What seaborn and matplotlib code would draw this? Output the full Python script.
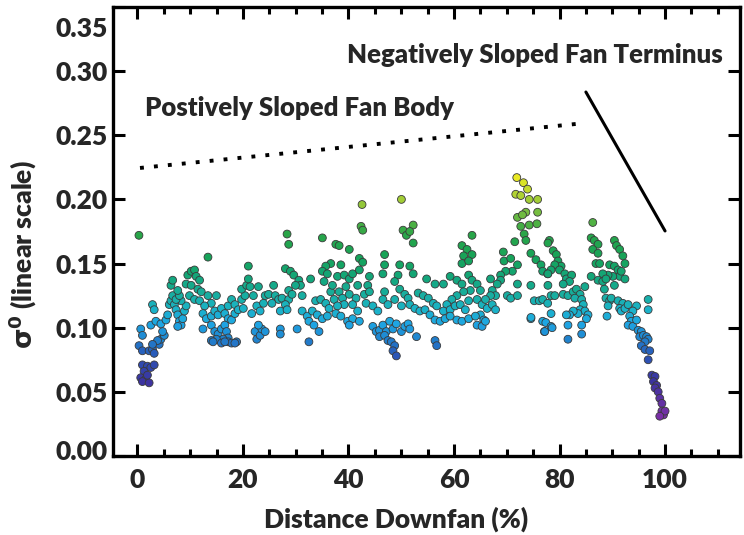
import numpy as np
import pandas as pd
import seaborn as sns
import matplotlib
matplotlib.use("Agg")
import matplotlib.pyplot as plt
from matplotlib.colors import LinearSegmentedColormap
from matplotlib.ticker import MultipleLocator
from matplotlib.transforms import ScaledTranslation

# ---- backscatter samples along the fan, grouped by stretch of the profile ----
# upper fan, 0-25 % downfan
apex_x = [0.96, 1.91, 1.27, 2.55, 3.19, 0.64, 1.59, 0.96, 2.23, 1.91,
          0.64, 0.96, 0.32, 0.96, 2.23, 2.87, 3.19, 4.14, 4.46, 5.10, 4.78, 3.82, 2.87,
          0.30,
          2.87, 3.19, 2.55, 3.51, 4.46, 5.42, 5.74, 6.05, 6.37, 6.69, 7.01, 7.33, 7.65,
          7.97, 8.29, 7.65, 8.60, 8.92, 9.24, 8.29, 7.33, 7.97, 6.37, 6.69, 7.65, 9.24,
          9.56, 10.20, 10.83, 11.15, 11.79, 10.20, 11.47, 12.11, 9.88, 10.83, 11.79,
          13.38, 13.38, 14.98, 14.02, 12.75, 12.43, 13.07, 14.02, 14.66, 15.30, 15.93,
          16.57, 17.21, 17.85, 18.48, 17.21, 17.85, 18.48, 19.12, 20.08, 19.76, 20.40,
          19.76, 20.71, 21.35, 21.03, 21.03, 21.99, 22.94, 22.63, 21.67, 23.26, 23.90,
          24.22,
          12.43, 14.02, 14.66, 15.30, 15.93, 16.57, 16.89, 17.21, 16.25, 14.98, 14.02,
          14.34, 15.93, 17.21, 17.85, 18.80, 18.48, 16.57, 22.31, 22.63, 23.26, 23.58,
          24.22, 22.94]
apex_y = [0.071, 0.070, 0.066, 0.069, 0.071, 0.061, 0.060, 0.058, 0.057, 0.063,
          0.099, 0.094, 0.086, 0.082, 0.082, 0.083, 0.080, 0.087, 0.091, 0.094, 0.097, 0.090, 0.087,
          0.172,
          0.118, 0.114, 0.102, 0.105, 0.103, 0.106, 0.110, 0.118, 0.121, 0.125, 0.118, 0.114, 0.110,
          0.105, 0.102, 0.101, 0.107, 0.113, 0.117, 0.121, 0.122, 0.125, 0.133, 0.137, 0.129, 0.134,
          0.141, 0.144, 0.145, 0.140, 0.137, 0.133, 0.130, 0.128, 0.125, 0.122, 0.121,
          0.155, 0.125, 0.125, 0.119, 0.117, 0.111, 0.107, 0.109, 0.113, 0.110, 0.115,
          0.111, 0.117, 0.122, 0.118, 0.107, 0.106, 0.111, 0.114, 0.115, 0.122, 0.125,
          0.130, 0.133, 0.132, 0.148, 0.138, 0.125, 0.132, 0.117, 0.111, 0.113, 0.119,
          0.125,
          0.099, 0.102, 0.097, 0.095, 0.099, 0.102, 0.097, 0.092, 0.091, 0.091, 0.090,
          0.089, 0.088, 0.089, 0.088, 0.089, 0.088, 0.089, 0.097, 0.091, 0.094, 0.099,
          0.097, 0.102]

# mid fan, 25-52 % downfan
mid_x = [42.58, 50.04, 42.39, 42.71, 28.37, 28.68, 35.06, 37.61, 38.24, 40.16,
         42.07, 42.71, 46.85, 50.35, 50.99, 49.72, 46.85, 36.65, 35.70, 35.06,
         36.01, 38.56, 28.05, 29.00, 29.64, 30.60, 30.91, 31.23, 29.96, 28.68,
         32.83, 35.38, 37.93, 39.20, 40.16, 40.79, 42.07, 43.98, 43.66, 41.75,
         39.52, 36.65, 36.97, 38.24, 46.53, 46.85, 49.40, 48.76, 49.72,
         24.86, 25.82, 26.13, 26.77, 25.50, 27.41, 28.68, 29.32, 28.05, 27.09,
         28.37, 33.78, 34.74, 35.70, 37.29, 38.88, 40.16, 41.43, 43.02, 43.98,
         43.34, 44.62, 45.57, 41.75, 40.79, 39.20, 37.93, 36.33, 46.53, 47.49,
         48.76, 50.04, 50.67, 51.31,
         31.23, 32.19, 33.15, 34.10, 35.06, 32.51, 33.46, 34.42, 36.01, 37.61,
         38.56, 39.84, 40.79, 40.16, 42.07, 30.28, 27.09, 27.09, 44.62, 45.26,
         45.89, 46.53, 47.17, 47.81, 48.44, 49.08, 50.04, 50.67, 51.31, 45.89,
         46.85, 47.49, 48.12, 48.76, 48.44, 49.08, 32.51]
mid_y = [0.196, 0.200, 0.179, 0.176, 0.173, 0.165, 0.170, 0.165, 0.164, 0.161,
         0.154, 0.151, 0.157, 0.176, 0.172, 0.149, 0.149, 0.150, 0.148, 0.144,
         0.142, 0.149, 0.146, 0.144, 0.141, 0.137, 0.133, 0.125, 0.133, 0.129,
         0.138, 0.136, 0.140, 0.141, 0.138, 0.142, 0.145, 0.140, 0.133, 0.133,
         0.132, 0.128, 0.133, 0.128, 0.142, 0.128, 0.141, 0.136, 0.130,
         0.126, 0.133, 0.125, 0.122, 0.119, 0.123, 0.122, 0.126, 0.118, 0.113,
         0.114, 0.121, 0.122, 0.119, 0.122, 0.123, 0.126, 0.123, 0.126, 0.128,
         0.119, 0.117, 0.113, 0.113, 0.118, 0.118, 0.117, 0.115, 0.122, 0.118,
         0.122, 0.117, 0.126, 0.123,
         0.113, 0.109, 0.113, 0.110, 0.107, 0.105, 0.102, 0.097, 0.109, 0.111,
         0.109, 0.105, 0.107, 0.102, 0.105, 0.099, 0.099, 0.095, 0.101, 0.097,
         0.098, 0.102, 0.097, 0.105, 0.099, 0.103, 0.097, 0.101, 0.103, 0.093,
         0.094, 0.090, 0.089, 0.086, 0.082, 0.078, 0.089]

# lower fan, 52-78 % downfan
low_x = [71.90, 73.17, 73.94, 71.71, 72.66, 74.26, 75.85, 73.62, 75.85, 72.03,
         72.98, 72.66, 74.26, 75.72, 73.30, 73.62, 71.52, 78.08, 63.42, 61.51,
         62.47, 63.42, 61.83, 61.51, 62.78, 69.35, 69.48, 70.75, 72.03, 71.07,
         69.79, 68.84, 68.84, 74.57, 75.53, 76.49, 76.81, 77.76, 52.27, 51.63,
         52.27, 51.63, 52.27,
         54.82, 56.41, 58.00, 53.22, 54.18, 55.14, 56.09, 56.73, 59.28, 60.55,
         61.51, 62.78, 63.42, 64.38, 65.01, 63.10, 61.83, 60.55, 59.60, 58.64,
         58.00, 59.28, 60.23, 61.19, 62.15, 62.78, 64.38, 65.33, 66.29, 67.25,
         67.88, 66.93, 68.20, 67.25, 67.88, 66.93, 65.97, 65.01, 65.65, 70.11,
         70.75, 72.03, 72.03, 74.57, 75.21, 76.17, 76.81, 77.76, 78.40, 51.63,
         52.59, 53.54, 54.50, 55.45, 56.41, 57.37, 58.32, 59.28, 60.55, 61.51,
         62.78, 64.06, 64.38, 65.33, 65.97,
         74.57, 76.81, 77.13, 52.90, 51.63, 56.41, 56.73, 74.60, 77.20, 77.40]
low_y = [0.217, 0.213, 0.208, 0.204, 0.203, 0.200, 0.200, 0.190, 0.190, 0.186,
         0.188, 0.179, 0.180, 0.181, 0.173, 0.168, 0.167, 0.168, 0.172, 0.164,
         0.161, 0.157, 0.156, 0.150, 0.152, 0.159, 0.152, 0.154, 0.149, 0.144,
         0.144, 0.141, 0.137, 0.158, 0.153, 0.149, 0.144, 0.142, 0.180, 0.175,
         0.166, 0.148, 0.142,
         0.138, 0.134, 0.134, 0.127, 0.125, 0.123, 0.119, 0.117, 0.140, 0.137,
         0.134, 0.141, 0.137, 0.134, 0.129, 0.129, 0.128, 0.125, 0.122, 0.118,
         0.113, 0.114, 0.117, 0.118, 0.114, 0.121, 0.122, 0.118, 0.115, 0.118,
         0.114, 0.138, 0.134, 0.129, 0.125, 0.125, 0.122, 0.110, 0.106, 0.125,
         0.123, 0.125, 0.134, 0.133, 0.121, 0.121, 0.122, 0.119, 0.125, 0.118,
         0.115, 0.113, 0.114, 0.110, 0.106, 0.105, 0.107, 0.109, 0.106, 0.105,
         0.107, 0.109, 0.102, 0.101, 0.105,
         0.107, 0.105, 0.097, 0.093, 0.099, 0.090, 0.086, 0.108, 0.097, 0.104]

# distal fan and terminus, 78-100 % downfan
toe_x = [86.3, 86.0, 86.6, 87.3, 86.3, 87.3, 86.9, 87.6, 89.5, 90.4,
         91.1, 91.4, 90.1, 89.2, 88.2, 87.3, 88.2, 88.8, 86.0, 90.4,
         90.8, 91.4, 92.0, 92.4, 91.7, 92.4, 90.4, 88.5, 88.8, 89.5,
         89.2, 89.8, 91.1, 92.0, 91.4, 91.7, 92.4, 93.0, 94.6, 96.8,
         96.8, 93.9, 93.3, 93.6, 93.0, 93.9, 94.6, 94.9, 95.5, 95.2,
         95.9, 96.5, 96.8, 96.2, 95.5, 96.2, 97.1, 96.8, 97.5, 98.1,
         97.8, 98.4, 98.1, 98.7, 99.0, 99.4, 99.4, 99.7, 100.0, 99.0,
         89.0,
         77.8, 78.8, 79.4, 79.7, 80.3, 79.1, 78.4, 80.0, 81.0, 81.3,
         82.3, 81.9, 80.7, 77.8, 77.8, 79.1, 80.7, 81.6, 82.6, 83.2,
         83.9, 84.8, 82.9, 84.2, 84.5, 83.9, 84.8, 85.4, 85.1, 83.5,
         82.6, 81.9, 81.3, 78.4, 81.6, 84.2, 81.6, 84.2, 78.4, 78.6]
toe_y = [0.182, 0.170, 0.168, 0.165, 0.161, 0.158, 0.150, 0.150, 0.149, 0.148,
         0.145, 0.140, 0.140, 0.141, 0.142, 0.137, 0.136, 0.138, 0.140, 0.168,
         0.164, 0.161, 0.156, 0.150, 0.144, 0.138, 0.133, 0.130, 0.123, 0.121,
         0.117, 0.123, 0.121, 0.119, 0.115, 0.113, 0.115, 0.118, 0.117, 0.122,
         0.114, 0.113, 0.109, 0.105, 0.102, 0.101, 0.106, 0.098, 0.097, 0.093,
         0.094, 0.093, 0.091, 0.089, 0.086, 0.083, 0.082, 0.075, 0.063, 0.062,
         0.058, 0.055, 0.053, 0.050, 0.045, 0.041, 0.035, 0.032, 0.035, 0.031,
         0.109,
         0.166, 0.160, 0.157, 0.152, 0.148, 0.149, 0.145, 0.145, 0.142, 0.138,
         0.141, 0.136, 0.134, 0.142, 0.133, 0.125, 0.126, 0.125, 0.128, 0.130,
         0.126, 0.132, 0.123, 0.122, 0.118, 0.114, 0.113, 0.110, 0.107, 0.111,
         0.113, 0.110, 0.110, 0.111, 0.102, 0.102, 0.091, 0.095, 0.101, 0.100]

# slope guides: gently rising fan body, steeply falling terminus
body_trend_x = [0.5, 84.8]
body_trend_y = [0.2245, 0.2595]
terminus_trend_x = [85.0, 100.0]
terminus_trend_y = [0.2837, 0.1754]

x_ticks = [0, 20, 40, 60, 80, 100]
y_ticks = [0.00, 0.05, 0.10, 0.15, 0.20, 0.25, 0.30, 0.35]

df = pd.DataFrame({
    "distance": apex_x + mid_x + low_x + toe_x,
    "sigma0": apex_y + mid_y + low_y + toe_y,
})

sns.set_theme(style="ticks")
plt.rcParams["font.family"] = ["Lato", "DejaVu Sans"]
plt.rcParams["font.weight"] = "heavy"
plt.rcParams["mathtext.fontset"] = "dejavusans"

# purple -> indigo -> blue -> sky blue -> teal -> green -> yellow
sigma_cmap = LinearSegmentedColormap.from_list(
    "sigma",
    [(0.00, "#7b2fa6"), (0.15, "#3b33a0"), (0.26, "#2a58b8"),
     (0.33, "#1f86d0"), (0.39, "#1ea6e4"), (0.45, "#1bb3c8"),
     (0.51, "#18ae9e"), (0.58, "#13a67a"), (0.66, "#16a35a"),
     (0.76, "#29a548"), (0.87, "#86c23e"), (1.00, "#ecea22")])

fig = plt.figure(figsize=(7.44, 5.35), dpi=100)
ax = fig.add_axes([0.152, 0.1477, 0.8426, 0.8393])

sns.scatterplot(data=df, x="distance", y="sigma0", hue="sigma0",
                palette=sigma_cmap, hue_norm=(0.030, 0.218), legend=False,
                s=32, edgecolor="#3a3a3a", linewidth=0.6, ax=ax, zorder=3)

ax.plot(body_trend_x, body_trend_y, color="black", lw=2.8,
        linestyle=(0, (1.0, 2.6)))
ax.plot(terminus_trend_x, terminus_trend_y, color="black", lw=2.2)

ax.text(1.4, 0.271, "Postively Sloped Fan Body", fontsize=18.5,
        fontweight="heavy", va="center", ha="left")
ax.text(39.7, 0.3125, "Negatively Sloped Fan Terminus", fontsize=18.5,
        fontweight="heavy", va="center", ha="left")

ax.set_xlim(-4.6, 114.2)
ax.set_ylim(0.0, 0.35)
ax.set_xticks(x_ticks)
ax.set_yticks(y_ticks)
ax.set_yticklabels([f"{v:.2f}" for v in y_ticks])
ax.xaxis.set_minor_locator(MultipleLocator(5))

ax.tick_params(axis="both", which="both", direction="in",
               top=True, right=True, labelsize=19, width=2.2, color="black")
ax.tick_params(axis="both", which="major", length=8.5)
ax.tick_params(axis="both", which="minor", length=5)
ax.tick_params(axis="x", which="major", pad=8.5)
ax.tick_params(axis="y", which="major", pad=4)
for lab in ax.get_xticklabels() + ax.get_yticklabels():
    lab.set_fontweight("heavy")

# end labels of the value axis sit inside the frame
ylabs = ax.get_yticklabels()
ylabs[-1].set_transform(ylabs[-1].get_transform()
                        + ScaledTranslation(0, -20 / 100, fig.dpi_scale_trans))
ylabs[0].set_transform(ylabs[0].get_transform()
                       + ScaledTranslation(0, 6 / 100, fig.dpi_scale_trans))

for side in ax.spines.values():
    side.set_linewidth(2.4)
    side.set_color("black")

ax.set_xlabel("Distance Downfan (%)", fontsize=19, fontweight="heavy")
ax.set_ylabel(r"$\mathbf{\sigma^{0}}$ (linear scale)", fontsize=19,
              fontweight="heavy")
ax.xaxis.set_label_coords(0.451, -0.113)
ax.yaxis.set_label_coords(-0.118, 0.448)

fig.savefig("out.png", dpi=100)
